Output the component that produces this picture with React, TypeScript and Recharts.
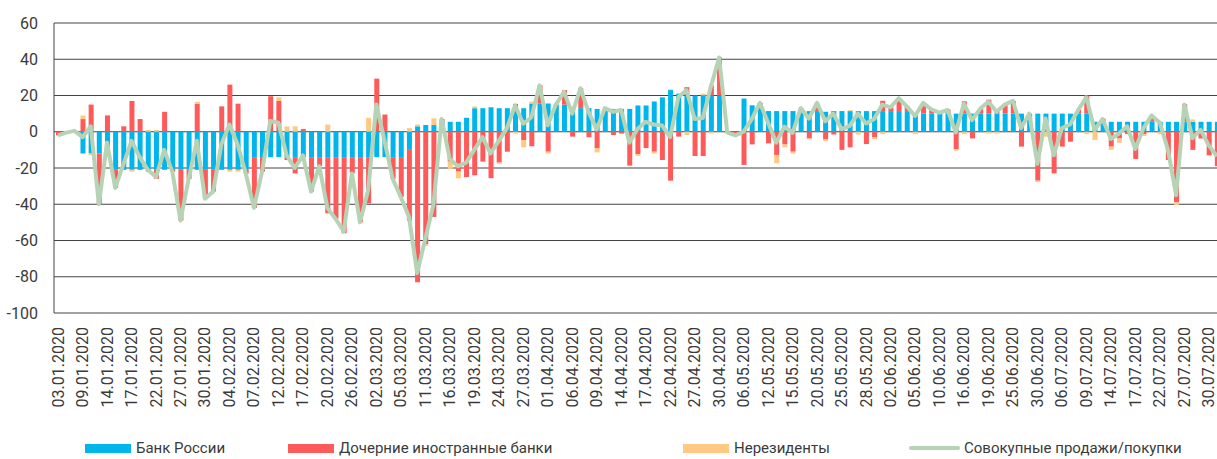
import React from 'react';
import { ComposedChart, Bar, Line, XAxis, YAxis, CartesianGrid } from 'recharts';

// trading days, Jan–Jul 2020
const dates = [
  '03.01.2020', '06.01.2020', '08.01.2020', '09.01.2020', '10.01.2020', '13.01.2020', '14.01.2020', '15.01.2020', '16.01.2020', '17.01.2020',
  '20.01.2020', '21.01.2020', '22.01.2020', '23.01.2020', '24.01.2020', '27.01.2020', '28.01.2020', '29.01.2020', '30.01.2020', '31.01.2020',
  '03.02.2020', '04.02.2020', '05.02.2020', '06.02.2020', '07.02.2020', '10.02.2020', '11.02.2020', '12.02.2020', '13.02.2020', '14.02.2020',
  '17.02.2020', '18.02.2020', '19.02.2020', '20.02.2020', '21.02.2020', '25.02.2020', '26.02.2020', '27.02.2020', '28.02.2020',
  '02.03.2020', '03.03.2020', '04.03.2020', '05.03.2020', '06.03.2020', '10.03.2020', '11.03.2020', '12.03.2020', '13.03.2020', '16.03.2020',
  '17.03.2020', '18.03.2020', '19.03.2020', '20.03.2020', '23.03.2020', '24.03.2020', '25.03.2020', '26.03.2020', '27.03.2020', '30.03.2020', '31.03.2020',
  '01.04.2020', '02.04.2020', '03.04.2020', '06.04.2020', '07.04.2020', '08.04.2020', '09.04.2020', '10.04.2020', '13.04.2020', '14.04.2020',
  '15.04.2020', '16.04.2020', '17.04.2020', '20.04.2020', '21.04.2020', '22.04.2020', '23.04.2020', '24.04.2020', '27.04.2020', '28.04.2020',
  '29.04.2020', '30.04.2020',
  '04.05.2020', '05.05.2020', '06.05.2020', '07.05.2020', '08.05.2020', '12.05.2020', '13.05.2020', '14.05.2020', '15.05.2020', '18.05.2020',
  '19.05.2020', '20.05.2020', '21.05.2020', '22.05.2020', '25.05.2020', '26.05.2020', '27.05.2020', '28.05.2020', '29.05.2020',
  '01.06.2020', '02.06.2020', '03.06.2020', '04.06.2020', '05.06.2020', '08.06.2020', '09.06.2020', '10.06.2020', '11.06.2020', '15.06.2020',
  '16.06.2020', '17.06.2020', '18.06.2020', '19.06.2020', '22.06.2020', '23.06.2020', '25.06.2020', '26.06.2020', '29.06.2020', '30.06.2020',
  '02.07.2020', '03.07.2020', '06.07.2020', '07.07.2020', '08.07.2020', '09.07.2020', '10.07.2020', '13.07.2020', '14.07.2020', '15.07.2020',
  '16.07.2020', '17.07.2020', '20.07.2020', '21.07.2020', '22.07.2020', '23.07.2020', '24.07.2020', '27.07.2020', '28.07.2020', '29.07.2020',
  '30.07.2020', '31.07.2020',
];

const bankOfRussia = [
  0, 0, 0, -12, -12, -12, -12, -21, -21, -21, -21, -21, -21, -21, -21, -21, -21, -21, -21, -21,
  -21, -21, -21, -21, -14, -14, -14, -14, -14, -14, -14, -14, -14, -14, -14, -14, -14, -14, -14,
  -14, -14, -14, -14, -10, 3, 3.7, 3.7, 5.5, 5.5, 5.5, 7.7, 13, 13, 13.5, 13, 13, 13, 13, 15.6, 15.6,
  15.6, 15, 15, 13.4, 13, 13, 12.6, 12.6, 12.6, 12.6, 12.6, 14.5, 14.5, 16.7, 19, 23, 21, 20, 20, 20, 20, 20,
  0, 0, 18.3, 14.6, 14.6, 11.4, 11.4, 11.4, 11.4, 11.4, 11.4, 11.4, 11, 11.4, 11.4, 11.4, 11.4, 11.4, 11.4,
  11.4, 11.4, 11.4, 11.4, 10, 10, 10, 10, 10, 10, 10, 10, 10, 10, 10, 10, 10, 10, 10, 10,
  10, 10, 10, 10, 10, 10, 5.5, 5.5, 5.5, 5.5, 5.5, 5.5, 5.5, 5.5, 5.5, 5.5, 5.5, 5.5, 5.5, 5.5, 5.5, 5.5,
];

const subsidiaries = [
  -2, -0.5, 0.5, 7, 15, -28, 9, -10, 3, 17, 7, -1, -5, 11, -1, -28, -5, 15.5, -16, -12,
  14, 26, 15.5, -2, -28, -8, 19.6, 17, -1.6, -9, 1.5, -19, -5, -31, -34, -42, -9, -36, -25.5,
  29.3, 9.5, -12, -22, -39, -83, -62, -47, 1.5, -16.5, -22, -25, -24, -16.5, -25.6, -17, -11, 2.4, -4.6, -8, 10,
  -11, 0, 8, -2.7, 11, -3, -9, 0.5, -1.8, -1, -18.7, -12.3, -9, -11, -15.6, -27, -2.7, 4.6, -13.4, -13.4, 5.5, 21,
  -0.5, -1.5, -18.3, -7, 1.3, -6.4, -12.8, -7, -11, 1.6, -3.7, 4, -4.2, -1.5, -10, -8.6, 0, -6.8, -3,
  5.7, 2, 7, 2.5, 0, 5.9, 2.4, 1, 2.3, -9.7, 6.8, -3.7, 2.7, 7.7, 1.8, 4.6, 7, -8.2, 0, -27,
  0, -23, -8.2, -5.5, 2.2, 10, 0, 1.8, -8.2, -3.7, -1.3, -15, -1.3, 2.4, 0, -15.6, -39, 9.7, -10, -3.7, -13, -19,
];

const nonResidents = [
  0, 0, 0, 2, -1, 0, -2, 0, 0, -1, 0, 1, 1, 0, 0, 0, 0, 1, 0, 0,
  0, -1, -1, 0, 0, 0, 0, 2, 3, 3, 0, 0, 0, 4, 0, 0, 0, 0, 7.7,
  0, 0, 0, 0, 2, 1, -1, 3.7, 0, -4, -3.7, 0, 1, 0, 0, -0.7, 0, -1, -4, 1, 0,
  -1, 0, 0, 0, 0, 0, -2.4, 0, 0, 0, 0, -1, 0, -1, 0, 0.4, 0.4, -1.8, 0, 1, -1, 0,
  0, 0, 0, 0, 0, 0, -4.6, -1.6, -1, 0, -0.5, 0, -1, 0, 0, 0.5, -1.5, 0, -1,
  -1.3, 0, 0, 0, -1.3, 0, 0, 0, 0, -0.7, -1.3, 0, 0, -1, -1, 0, 0, 0, 0, -0.7,
  -2.7, 0, 0, 0, 0, -1.3, -4.5, 0, -1.8, -2.4, 0, 0, -1, 0, -1.3, 0, -1.5, 0, 1.3, 0, 0, 0,
];

const totalFlows = [
  -2, -0.5, 0.5, -3, 3, -40, -6, -31, -18, -5, -14, -21, -25, -10, -22, -49, -26, -5, -37, -33,
  -7, 4, -7, -23, -42, -22, 6, 5, -13, -20, -13, -33, -19, -42, -48, -55, -23, -50, -32,
  15, -5, -26, -36, -47, -78, -59, -40, 7, -15, -19, -17, -10, -3, -12, -5, 2, 14.5, 4.4, 8, 25.6,
  3.6, 15, 22, 10, 24, 11, 1.3, 13, 11, 12, -6, 1.5, 5.5, 4, 3.5, -3, 19, 23, 7, 7.6, 25, 41,
  -0.5, -2, 0, 7, 16, 5, -6, 2.8, -0.6, 13, 7.3, 16, 5.8, 10, 1.5, 3.3, 10, 4.6, 7,
  15, 13.5, 18.5, 14, 8.7, 15.9, 12.3, 10.5, 12, -0.4, 15.5, 6.4, 12.8, 16.5, 11, 15, 17, 2, 10, -17.7,
  7.3, -13, 2, 4, 12, 19, 1, 7, -4, -1, 3, -9.5, 2, 9, 5, -10, -35, 15, -3.5, 1, -7.5, -13.5,
];

const yTicks = [-100, -80, -60, -40, -20, 0, 20, 40, 60];

const chartData = dates.map((date, i) => ({
  date,
  cbr: bankOfRussia[i],
  subs: subsidiaries[i],
  nonres: nonResidents[i],
  total: totalFlows[i],
}));

const BLUE = '#00B5EB';
const RED = '#FF5A5A';
const ORANGE = '#FFC983';
const GREEN = '#B6D3B6';
const TEXT = '#3a3a3a';

function DateTick(props: any) {
  const { x, y, payload } = props;
  return (
    <g transform={`translate(${x},${y + 12})`}>
      <text x={0} y={0} dy={5.5} textAnchor="end" transform="rotate(-90)" fontSize={16} fill={TEXT}>
        {payload.value}
      </text>
    </g>
  );
}

const legendItems = [
  { label: 'Банк России', color: BLUE, left: 85, kind: 'rect' },
  { label: 'Дочерние иностранные банки', color: RED, left: 288, kind: 'rect' },
  { label: 'Нерезиденты', color: ORANGE, left: 683, kind: 'rect' },
  { label: 'Совокупные продажи/покупки', color: GREEN, left: 909, kind: 'line' },
];

export default function App() {
  return (
    <div style={{ position: 'absolute', left: 0, top: 0, width: 1217, height: 459, overflow: 'hidden', background: '#fff', fontFamily: 'Roboto, "Open Sans", sans-serif' }}>
      <ComposedChart
        width={1221}
        height={420}
        data={chartData}
        margin={{ top: 23, right: 0, left: 0, bottom: 0 }}
        stackOffset="sign"
        barSize={5}
      >
        <CartesianGrid vertical={false} stroke="#444" />
        <XAxis
          dataKey="date"
          interval={2}
          tickLine={false}
          axisLine={false}
          tickSize={0}
          height={107}
          tick={(p: any) => <DateTick {...p} />}
        />
        <YAxis
          width={54}
          domain={[-100, 60]}
          ticks={yTicks}
          tickLine={false}
          axisLine={{ stroke: '#444' }}
          tickMargin={10}
          tick={{ fontSize: 16, fill: TEXT }}
        />
        <Bar dataKey="cbr" stackId="a" fill={BLUE} isAnimationActive={false} />
        <Bar dataKey="subs" stackId="a" fill={RED} isAnimationActive={false} />
        <Bar dataKey="nonres" stackId="a" fill={ORANGE} isAnimationActive={false} />
        <Line
          dataKey="total"
          type="linear"
          stroke={GREEN}
          strokeWidth={4}
          strokeLinejoin="round"
          dot={false}
          activeDot={false}
          isAnimationActive={false}
        />
      </ComposedChart>
      {legendItems.map((item) => (
        <div key={item.label} style={{ position: 'absolute', left: item.left, top: 439, display: 'flex', alignItems: 'center', fontSize: 15, color: TEXT, whiteSpace: 'nowrap' }}>
          <span
            style={{
              display: 'inline-block',
              width: item.kind === 'line' ? 51 : 46,
              height: item.kind === 'line' ? 4 : 9,
              background: item.color,
              borderRadius: item.kind === 'line' ? 2 : 0,
              marginRight: item.kind === 'line' ? 4 : 5,
            }}
          />
          <span>{item.label}</span>
        </div>
      ))}
    </div>
  );
}
